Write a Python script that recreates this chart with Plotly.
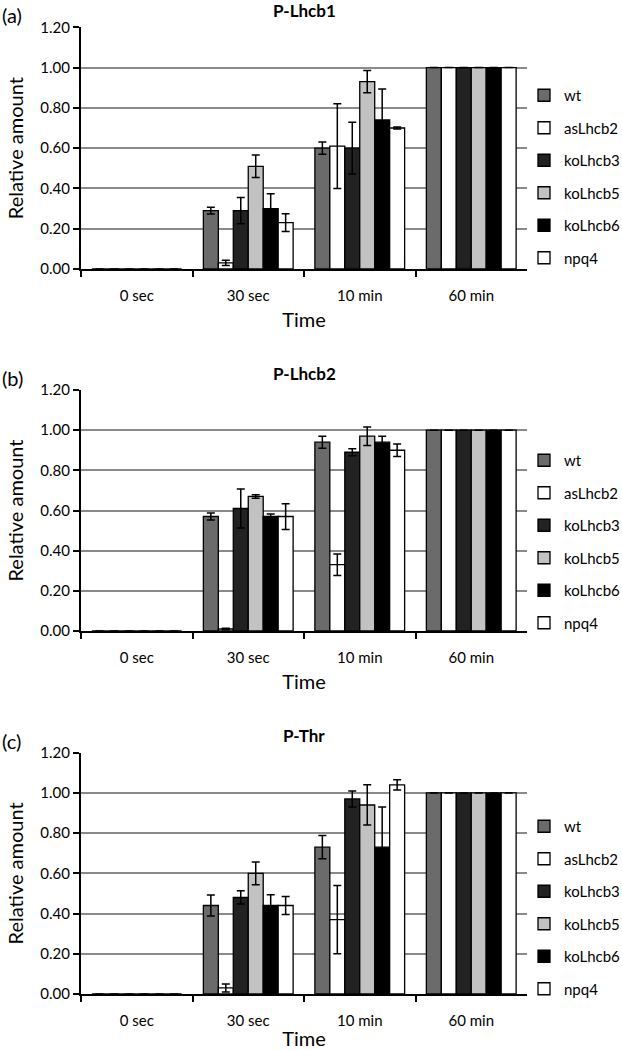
import plotly.graph_objects as go

categories = ["0 sec", "30 sec", "10 min", "60 min"]
series = ["wt", "asLhcb2", "koLhcb3", "koLhcb5", "koLhcb6", "npq4"]
colors = ["#6b6b6b", "#ffffff", "#222222", "#c2c2c2", "#000000", "#ffffff"]

# Panel (a) P-Lhcb1
a_vals = {
    "wt":      [0, 0.29, 0.60, 1.0],
    "asLhcb2": [0, 0.03, 0.61, 1.0],
    "koLhcb3": [0, 0.29, 0.60, 1.0],
    "koLhcb5": [0, 0.51, 0.93, 1.0],
    "koLhcb6": [0, 0.30, 0.74, 1.0],
    "npq4":    [0, 0.23, 0.70, 1.0],
}
a_err = {
    "wt":      [None, 0.017, 0.03, None],
    "asLhcb2": [None, 0.013, 0.21, None],
    "koLhcb3": [None, 0.065, 0.128, None],
    "koLhcb5": [None, 0.056, 0.055, None],
    "koLhcb6": [None, 0.073, 0.154, None],
    "npq4":    [None, 0.044, 0.005, None],
}
# Panel (b) P-Lhcb2
b_vals = {
    "wt":      [0, 0.57, 0.94, 1.0],
    "asLhcb2": [0, 0.01, 0.33, 1.0],
    "koLhcb3": [0, 0.61, 0.89, 1.0],
    "koLhcb5": [0, 0.67, 0.97, 1.0],
    "koLhcb6": [0, 0.57, 0.94, 1.0],
    "npq4":    [0, 0.57, 0.90, 1.0],
}
b_err = {
    "wt":      [None, 0.017, 0.03, None],
    "asLhcb2": [None, 0.004, 0.054, None],
    "koLhcb3": [None, 0.097, 0.017, None],
    "koLhcb5": [None, 0.009, 0.046, None],
    "koLhcb6": [None, 0.013, 0.03, None],
    "npq4":    [None, 0.064, 0.031, None],
}
# Panel (c) P-Thr
c_vals = {
    "wt":      [0, 0.44, 0.73, 1.0],
    "asLhcb2": [0, 0.03, 0.37, 1.0],
    "koLhcb3": [0, 0.48, 0.97, 1.0],
    "koLhcb5": [0, 0.60, 0.94, 1.0],
    "koLhcb6": [0, 0.44, 0.73, 1.0],
    "npq4":    [0, 0.44, 1.04, 1.0],
}
c_err = {
    "wt":      [None, 0.052, 0.058, None],
    "asLhcb2": [None, 0.02, 0.17, None],
    "koLhcb3": [None, 0.033, 0.04, None],
    "koLhcb5": [None, 0.057, 0.10, None],
    "koLhcb6": [None, 0.053, 0.20, None],
    "npq4":    [None, 0.045, 0.025, None],
}

titles = ["P-Lhcb1", "P-Lhcb2", "P-Thr"]
labels = ["(a)", "(b)", "(c)"]
panels = [(a_vals, a_err), (b_vals, b_err), (c_vals, c_err)]

W, H = 622, 1050
FONT = "Lato, Liberation Sans, sans-serif"
# pixel geometry of plot areas (top, bottom)
plot_px = [(27.3, 269), (390, 631), (752.7, 994)]
x0_px, x1_px = 81, 527
legend_top_px = [79, 444, 810]

fig = go.Figure()
layout = dict(
    width=W, height=H, margin=dict(l=0, r=0, t=0, b=0, autoexpand=False),
    paper_bgcolor="white", plot_bgcolor="white",
    barmode="group", bargap=0.195, bargroupgap=0,
    font=dict(family=FONT, size=14, color="black"),
    annotations=[],
)

for i, (vals, errs) in enumerate(panels):
    xa = "x" if i == 0 else f"x{i+1}"
    ya = "y" if i == 0 else f"y{i+1}"
    lg = "legend" if i == 0 else f"legend{i+1}"
    for s, col in zip(series, colors):
        fig.add_trace(go.Bar(
            x=categories, y=vals[s], name=s,
            marker=dict(color=col, line=dict(color="black", width=1.3)),
            error_y=dict(type="data", array=errs[s], visible=True,
                         color="black", thickness=1.5, width=4),
            xaxis=xa, yaxis=ya, legend=lg, legendgroup=f"{s}{i}",
        ))
    top, bot = plot_px[i]
    xkey = "xaxis" if i == 0 else f"xaxis{i+1}"
    ykey = "yaxis" if i == 0 else f"yaxis{i+1}"
    layout[xkey] = dict(
        domain=[x0_px / W, x1_px / W], anchor=ya,
        type="category", tickson="boundaries", ticks="outside", ticklen=6,
        tickwidth=1.5, tickcolor="black", ticklabelstandoff=12,
        showline=True, linecolor="black", linewidth=2,
        tickfont=dict(size=15), showgrid=False, automargin=False,
        title=dict(text="Time", font=dict(size=20), standoff=10),
    )
    layout[ykey] = dict(
        domain=[1 - bot / H, 1 - top / H], anchor=xa,
        range=[0, 1.2], dtick=0.2, tickformat=".2f",
        ticks="outside", ticklen=6, tickwidth=1.5, tickcolor="black",
        showline=True, linecolor="black", linewidth=2,
        showgrid=True, gridcolor="#8a8a8a", gridwidth=1.6,
        tickfont=dict(size=15), zeroline=False, automargin=False,
        title=dict(text="Relative amount", font=dict(size=20), standoff=11),
    )
    layout[lg] = dict(
        x=524 / W, y=1 - legend_top_px[i] / H, xanchor="left", yanchor="top",
        xref="paper", yref="paper", bgcolor="rgba(0,0,0,0)",
        font=dict(size=15), tracegroupgap=10, traceorder="grouped",
        itemwidth=30,
    )
    layout["annotations"].append(dict(
        text=f"<b>{titles[i]}</b>", x=(x0_px + x1_px) / 2 / W, y=1 - (top - 17) / H,
        xref="paper", yref="paper", showarrow=False, font=dict(size=17),
        xanchor="center", yanchor="middle"))
    layout["annotations"].append(dict(
        text=labels[i], x=0, y=1 - (top - 12) / H,
        xref="paper", yref="paper", showarrow=False, font=dict(size=20),
        xanchor="left", yanchor="middle"))

fig.update_layout(**layout)
fig.write_html("out.html", config={"displayModeBar": False},
               post_script="document.body.style.margin='0';")
